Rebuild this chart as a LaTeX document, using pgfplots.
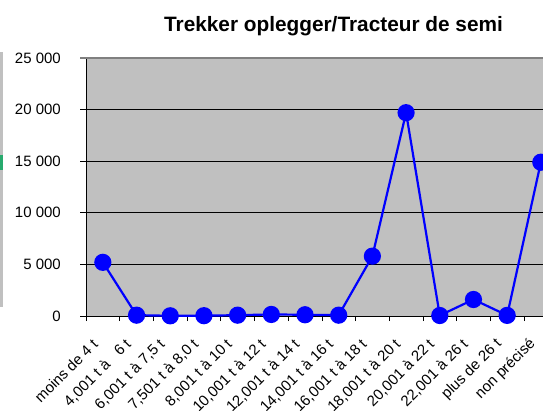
\documentclass[border=0pt]{standalone}
\usepackage{fontspec}
\setmainfont{Liberation Sans}
\usepackage{pgfplots}
\pgfplotsset{compat=1.18}
\definecolor{plotbg}{RGB}{192,192,192}
\definecolor{excelblue}{RGB}{0,0,255}
\definecolor{nbgreen}{RGB}{40,170,110}
\begin{document}
\begin{tikzpicture}
\useasboundingbox (0,0) rectangle (543pt,410pt);
\clip (0,0) rectangle (543pt,410pt);
\fill[plotbg] (0,103pt) rectangle (3pt,358pt);
\fill[nbgreen] (0,240pt) rectangle (3pt,255pt);
\node[font=\bfseries\fontsize{20.8}{24}\selectfont, anchor=base] at (333.5pt,378pt) {Trekker oplegger/Tracteur de semi};
\begin{axis}[
  at={(86pt,94pt)}, anchor=south west,
  scale only axis, width=471.7pt, height=258pt,
  xmin=-0.5, xmax=13.5, ymin=0, ymax=25000,
  axis background/.style={fill=plotbg},
  axis x line*=bottom, axis y line*=left,
  axis line style={-, black, line width=0.9pt},
  scaled y ticks=false,
  ytick={0,5000,10000,15000,20000},
  yticklabels={0,5 000,10 000,15 000,20 000},
  extra y ticks={25000},
  extra y tick labels={25 000},
  extra y tick style={major grid style={color=gray, line width=1.6pt}, major tick style={gray, line width=1.2pt}},
  ymajorgrids, major grid style={black, line width=0.7pt},
  xtick={0,...,13},
  xticklabels={{moins de 4 t},{4,001 t à~~~6 t},{6,001 t à 7,5 t},{7,501 t à 8,0 t},{8,001 t à 10 t},{10,001 t à 12 t},{12,001 t à 14 t},{14,001 t à 16 t},{16,001 t à 18 t},{18,001 t à 20 t},{20,001 à 22 t},{22,001 à 26 t},{plus de 26 t},{non précisé}},
  major x tick style={draw=none},
  minor xtick={-0.5,0.5,...,13.5},
  tick align=outside,
  major tick length=6pt, minor tick length=5pt,
  tick style={black, line width=0.7pt},
  ticklabel style={font=\fontsize{15}{18}\selectfont},
  yticklabel style={anchor=east, inner sep=0pt, xshift=-19pt},
  xticklabel style={rotate=45, anchor=east, inner sep=0pt, xshift=-19.5pt, yshift=-8.5pt},
]
\addplot[excelblue, line width=2.2pt, mark=*, mark size=7.5pt, mark options={fill=excelblue, draw=none}] coordinates {
(0,5200)(1,80)(2,20)(3,30)(4,80)(5,150)(6,120)(7,80)(8,5800)(9,19700)(10,50)(11,1600)(12,60)(13,14900)
};
\end{axis}
\end{tikzpicture}
\end{document}
